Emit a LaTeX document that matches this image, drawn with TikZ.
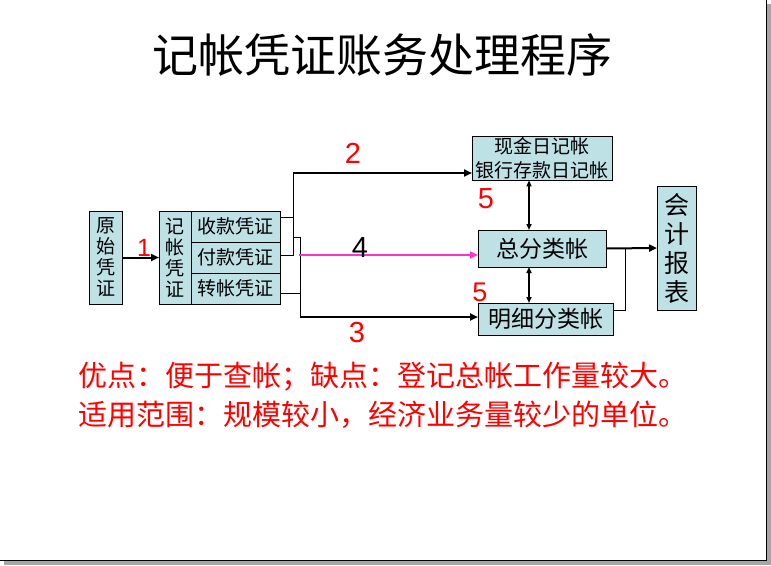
\documentclass[tikz,border=0pt]{standalone}
\usepackage{fontspec}
\setmainfont{Liberation Sans}
\newfontfamily\cjk{Noto Sans CJK SC}
\usetikzlibrary{positioning, arrows.meta, calc}

\definecolor{boxfill}{RGB}{190,225,230}
\definecolor{linkpink}{RGB}{255,51,204}

\begin{document}
\begin{tikzpicture}[
  x=1pt, y=-1pt,
  % Boxes
  cell/.style={rectangle, draw=black, fill=boxfill, line width=1pt, outer sep=0pt, inner sep=1pt,
    font=\cjk\fontsize{19}{21}\selectfont, align=center},
  vcell/.style={cell, minimum width=33pt, minimum height=93pt},
  ledger/.style={cell, font=\cjk\fontsize{23}{26}\selectfont},
  % Connectors
  wire/.style={line width=1pt},
  flow/.style={line width=2pt, -{Triangle[length=8pt,width=7pt]}},
  both/.style={line width=2pt, {Triangle[length=6pt,width=5pt]}-{Triangle[length=6pt,width=5pt]}},
  % Labels
  step label/.style={text=red, font=\fontsize{29}{29}\selectfont, inner sep=0pt},
  note/.style={text=red, anchor=west, inner sep=0pt, font=\cjk\fontsize{29}{32}\selectfont}
  ]

  \useasboundingbox (0,0) rectangle (771,565);

  % --- Slide frame ---
  \fill[gray!70] (766,4) rectangle (771,565);
  \fill[gray!70] (4,560) rectangle (771,565);
  \draw[line width=1pt] (0,560) -- (766,560) -- (766,0);

  % --- Title ---
  \node[font=\cjk\fontsize{46}{46}\selectfont] (title) at (382,55) {记帐凭证账务处理程序};

  % --- Vouchers ---
  \node[vcell] (yuanshi) at (105.5,257.5) {原\\始\\凭\\证};
  \node[vcell, minimum width=32pt] (jizhang) at (175,257.5) {记\\帐\\凭\\证};
  \node[cell, minimum width=89pt, minimum height=31pt, anchor=north west] (shoukuan) at (jizhang.north east) {收款凭证};
  \node[cell, minimum width=89pt, minimum height=31pt, below=0pt of shoukuan] (fukuan) {付款凭证};
  \node[cell, minimum width=89pt, minimum height=31pt, below=0pt of fukuan] (zhuanzhang) {转帐凭证};

  % --- Books ---
  \node[cell, minimum width=140pt, minimum height=43pt, font=\cjk\fontsize{19}{24}\selectfont] (xianjin) at (542,158.5) {现金日记帐\\银行存款日记帐};
  \node[ledger, minimum width=128pt, minimum height=37pt] (zongfen) at (542,248.5) {总分类帐};
  \node[ledger, minimum width=135pt, minimum height=32pt] (mingxi) at (545.5,319) {明细分类帐};
  \node[cell, minimum width=39pt, minimum height=124pt, font=\cjk\fontsize{25}{29}\selectfont] (kuaiji) at (676.5,248) {会\\计\\报\\表};

  % --- Bus junctions ---
  \coordinate (busA) at (293,173);
  \coordinate (busB) at (300,237);
  \coordinate (busD) at (300,317);
  \coordinate (busC) at (625,248);
  \coordinate (pinkStart) at (299,255);
  \coordinate (dblTop) at ($(xianjin.south)+(-13,0)$);
  \coordinate (dblMid) at ($(zongfen.south)+(-13,0)$);

  % --- Wiring ---
  \draw[flow] (yuanshi) -- (jizhang);
  \draw[wire] ($(shoukuan.east)+(0,-9.5)$) -| (busA);
  \draw[wire] ($(fukuan.east)+(0,-2.5)$) -| (busA);
  \draw[flow] (busA) -- (busA -| xianjin.west);
  \draw[wire] (busA |- busB) -- (busB) -- (busD);
  \draw[wire] ($(zhuanzhang.east)+(0,4.5)$) -| (busB);
  \draw[flow] (busD) -- (busD -| mingxi.west);
  \draw[line width=2pt, linkpink, -{Triangle[length=8pt,width=7pt]}] (pinkStart) -- (pinkStart -| zongfen.west);

  \draw[both] (dblTop) -- (dblTop |- zongfen.north);
  \draw[both] (dblMid) -- (dblMid |- mingxi.north);

  \draw[flow] (zongfen.east) -- (kuaiji.west);
  \draw[wire] ($(mingxi.east)+(0,-9)$) -| (busC);

  % --- Step numbers ---
  \node[step label, font=\fontsize{25}{25}\selectfont] (n1) at (144,248) {1};
  \node[step label] (n2) at (353,153) {2};
  \node[step label] (n5a) at (486,199) {5};
  \node[step label, text=black] (n4) at (360,248) {4};
  \node[step label, font=\fontsize{27}{27}\selectfont] (n5b) at (480,292) {5};
  \node[step label] (n3) at (357,333) {3};

  % --- Notes ---
  \node[note] (pros) at (78,377) {优点：便于查帐；缺点：登记总帐工作量较大。};
  \node[note] (scope) at (78,415) {适用范围：规模较小，经济业务量较少的单位。};

\end{tikzpicture}
\end{document}
